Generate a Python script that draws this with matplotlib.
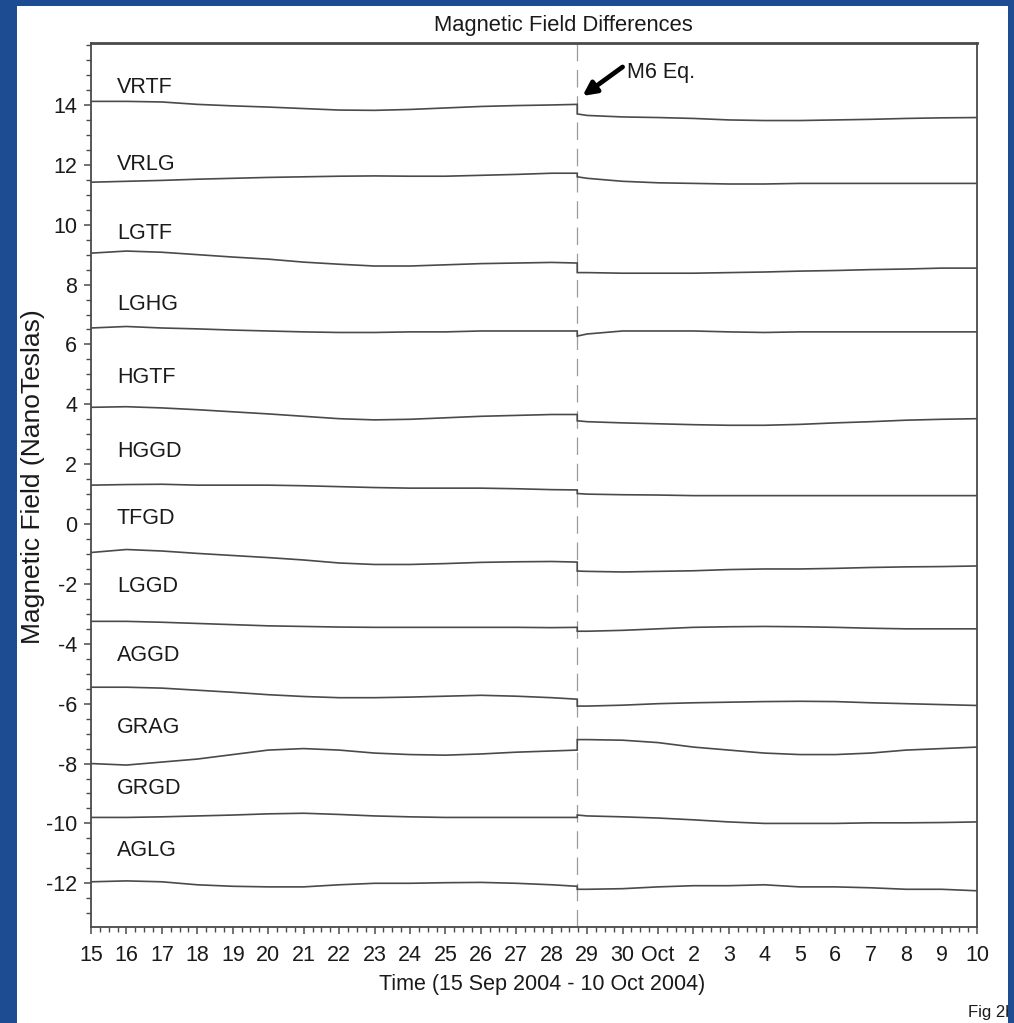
import matplotlib
matplotlib.use("Agg")
import matplotlib.pyplot as plt
from matplotlib.patches import Rectangle
from matplotlib.ticker import MultipleLocator, FixedLocator, FixedFormatter

plt.rcParams["font.family"] = ["Liberation Sans", "DejaVu Sans"]
plt.rcParams["axes.unicode_minus"] = False

# ---- data -------------------------------------------------------------
# Day 0 = 15 Sep 2004 00:00 UT; the earthquake sample is repeated so the
# step across the event is drawn as a vertical offset.
QUAKE_DAY = 13.72  # 28 Sep 2004 17:15 UT

days = [0, 1, 2, 3, 4, 5, 6, 7, 8, 9, 10, 11, 12, 13,
        QUAKE_DAY, QUAKE_DAY,
        14, 15, 16, 17, 18, 19, 20, 21, 22, 23, 24, 25]

vrtf = [14.12, 14.12, 14.10, 14.02, 13.97, 13.93, 13.88, 13.83, 13.82, 13.85, 13.90, 13.95, 13.98, 14.00,
        14.02, 13.70,
        13.65, 13.60, 13.58, 13.55, 13.50, 13.48, 13.48, 13.50, 13.52, 13.55, 13.57, 13.58]
vrlg = [11.42, 11.45, 11.48, 11.52, 11.55, 11.58, 11.60, 11.62, 11.63, 11.62, 11.62, 11.65, 11.68, 11.72,
        11.72, 11.60,
        11.55, 11.45, 11.40, 11.38, 11.36, 11.36, 11.38, 11.38, 11.38, 11.38, 11.38, 11.38]
lgtf = [9.05, 9.12, 9.08, 9.00, 8.92, 8.85, 8.75, 8.68, 8.62, 8.62, 8.66, 8.70, 8.72, 8.74,
        8.72, 8.40,
        8.40, 8.38, 8.38, 8.38, 8.40, 8.42, 8.45, 8.47, 8.50, 8.52, 8.55, 8.55]
lghg = [6.55, 6.60, 6.55, 6.52, 6.48, 6.45, 6.42, 6.40, 6.40, 6.42, 6.42, 6.45, 6.45, 6.45,
        6.45, 6.28,
        6.35, 6.45, 6.45, 6.45, 6.42, 6.40, 6.42, 6.42, 6.42, 6.42, 6.42, 6.42]
hgtf = [3.90, 3.92, 3.88, 3.82, 3.75, 3.68, 3.60, 3.52, 3.48, 3.50, 3.55, 3.60, 3.63, 3.66,
        3.66, 3.45,
        3.42, 3.38, 3.35, 3.32, 3.30, 3.30, 3.33, 3.38, 3.42, 3.47, 3.50, 3.52]
hggd = [1.30, 1.32, 1.33, 1.30, 1.30, 1.30, 1.28, 1.25, 1.22, 1.20, 1.20, 1.20, 1.18, 1.15,
        1.14, 1.02,
        1.00, 0.98, 0.97, 0.95, 0.95, 0.95, 0.95, 0.95, 0.95, 0.95, 0.95, 0.95]
tfgd = [-0.95, -0.85, -0.90, -0.98, -1.05, -1.12, -1.20, -1.30, -1.35, -1.35, -1.32, -1.28, -1.26, -1.25,
        -1.27, -1.57,
        -1.58, -1.60, -1.58, -1.56, -1.52, -1.50, -1.50, -1.48, -1.45, -1.43, -1.42, -1.40]
lggd = [-3.25, -3.25, -3.28, -3.32, -3.36, -3.40, -3.42, -3.44, -3.45, -3.45, -3.45, -3.45, -3.45, -3.46,
        -3.45, -3.58,
        -3.58, -3.55, -3.50, -3.45, -3.43, -3.42, -3.43, -3.45, -3.48, -3.50, -3.50, -3.50]
aggd = [-5.45, -5.45, -5.48, -5.55, -5.62, -5.70, -5.76, -5.80, -5.80, -5.78, -5.75, -5.72, -5.75, -5.80,
        -5.85, -6.08,
        -6.08, -6.05, -6.00, -5.97, -5.95, -5.93, -5.92, -5.93, -5.97, -6.00, -6.03, -6.06]
grag = [-8.00, -8.05, -7.95, -7.85, -7.70, -7.55, -7.50, -7.55, -7.65, -7.70, -7.72, -7.68, -7.62, -7.58,
        -7.55, -7.20,
        -7.20, -7.22, -7.30, -7.45, -7.55, -7.65, -7.70, -7.70, -7.65, -7.55, -7.50, -7.45]
grgd = [-9.80, -9.80, -9.78, -9.75, -9.72, -9.68, -9.66, -9.70, -9.75, -9.78, -9.80, -9.80, -9.80, -9.80,
        -9.80, -9.72,
        -9.75, -9.78, -9.82, -9.88, -9.95, -10.00, -10.00, -10.00, -9.98, -9.98, -9.97, -9.95]
aglg = [-11.95, -11.92, -11.95, -12.05, -12.10, -12.12, -12.12, -12.05, -12.00, -12.00, -11.98, -11.97, -12.00, -12.05,
        -12.10, -12.20,
        -12.20, -12.18, -12.12, -12.08, -12.08, -12.05, -12.12, -12.12, -12.15, -12.20, -12.20, -12.25]

pair_names = ["VRTF", "VRLG", "LGTF", "LGHG", "HGTF", "HGGD",
              "TFGD", "LGGD", "AGGD", "GRAG", "GRGD", "AGLG"]
pair_values = [vrtf, vrlg, lgtf, lghg, hgtf, hggd, tfgd, lggd, aggd, grag, grgd, aglg]

day_ticks = list(range(26))
day_labels = ["15", "16", "17", "18", "19", "20", "21", "22", "23", "24", "25", "26",
              "27", "28", "29", "30", "Oct", "2", "3", "4", "5", "6", "7", "8", "9", "10"]
field_ticks = [-12, -10, -8, -6, -4, -2, 0, 2, 4, 6, 8, 10, 12, 14]

# ---- layout / style ---------------------------------------------------
W, H = 1014, 1023
BG = "#1d4c93"
LINE = "#4a4a4a"
FRAME = "#4a4a4a"
TXT = "#1a1a1a"
FS = 15.5

# vertical position of each station-pair name
label_y = [14.57, 12.0, 9.72, 7.35, 4.88, 2.41, 0.2, -2.1, -4.38, -6.78, -8.82, -10.89]

fig = plt.figure(figsize=(W / 100, H / 100), dpi=100, facecolor=BG)

panel = Rectangle((17 / W, 0), (1008 - 17) / W, (H - 6) / H,
                  transform=fig.transFigure, facecolor="white", edgecolor="none", zorder=-10)
fig.patches.append(panel)

ax = fig.add_axes([91 / W, 1 - 927 / H, 886 / W, 884 / H])
ax.set_zorder(2)
ax.set_xlim(0, 25)
ax.set_ylim(-13.46, 16.07)

for name, vals, ly in zip(pair_names, pair_values, label_y):
    ax.plot(days, vals, color=LINE, lw=1.2, solid_joinstyle="miter")
    ax.text(0.73, ly, name, ha="left", va="center", fontsize=FS, color=TXT)

ax.axvline(QUAKE_DAY, color="#9a9a9a", lw=0.9, ls=(0, (14, 7)), zorder=1)

# earthquake marker
ax.annotate("", xy=(13.87, 14.3), xytext=(15.0, 15.27),
            arrowprops=dict(arrowstyle="-|>,head_length=0.8,head_width=0.4",
                            lw=3.4, color="black", shrinkA=0, shrinkB=0))
ax.text(15.12, 15.07, "M6 Eq.", ha="left", va="center", fontsize=FS, color=TXT)

# axes frame and ticks
for side, sp in ax.spines.items():
    sp.set_color(FRAME)
    sp.set_linewidth(1.3)
ax.spines["top"].set_linewidth(2.0)

ax.xaxis.set_major_locator(FixedLocator(day_ticks))
ax.xaxis.set_major_formatter(FixedFormatter(day_labels))
ax.xaxis.set_minor_locator(MultipleLocator(0.25))
ax.yaxis.set_major_locator(FixedLocator(field_ticks))
ax.yaxis.set_minor_locator(MultipleLocator(0.5))

ax.tick_params(axis="both", which="major", direction="out", length=5, width=1.1,
               color=FRAME, labelsize=FS, labelcolor=TXT)
ax.tick_params(axis="both", which="minor", direction="out", length=3.5, width=1.0, color=FRAME)
ax.tick_params(axis="x", which="major", pad=8)
ax.tick_params(axis="y", which="major", pad=5)

ax.set_xlabel("Time (15 Sep 2004 - 10 Oct 2004)", fontsize=FS, color=TXT)
ax.xaxis.set_label_coords(0.509, -0.053)
ax.set_ylabel("Magnetic Field (NanoTeslas)", fontsize=19, color=TXT)
ax.yaxis.set_label_coords(-0.052, 0.51)

fig.text(563 / W, 1 - 26 / H, "Magnetic Field Differences", ha="center", va="center",
         fontsize=15.8, color=TXT)

fig.text(968 / W, 1 - 1013 / H, "Fig 2b", ha="left", va="center", fontsize=12, color=TXT)
# right-hand blue border drawn over the caption edge
fig.patches.append(Rectangle((1008 / W, 0), 6 / W, 1, transform=fig.transFigure,
                             facecolor=BG, edgecolor="none", zorder=5))

fig.savefig("out.png", dpi=100, facecolor=fig.get_facecolor())
